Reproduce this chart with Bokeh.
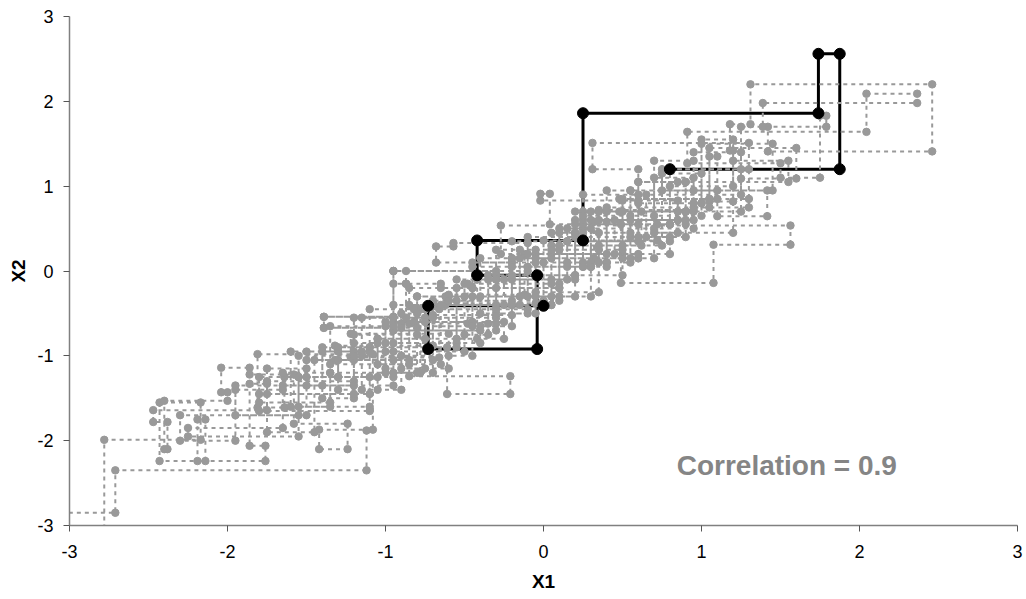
from bokeh.plotting import figure
from bokeh.models import Range1d, FixedTicker, Label
from bokeh.embed import file_html
from bokeh.resources import INLINE

# Gibbs chain (gray): alternating draws, vertical move to next x2, then horizontal move to next x1
gx1 = [-1.12, -2.71, -3.20, -2.78, -2.17, -2.43, -2.14, -2.19, -1.76, -1.86,
       -1.75, -2.47, -2.38, -2.40, -2.00, -2.04, -1.86, -1.58, -1.24, -1.42,
       -1.08, -1.81, -1.64, -1.30, -1.15, -0.90, -0.85, -1.32, -0.70, -0.55,
       -0.42, -0.30, -0.95, -0.78, -0.66, -1.22, -0.60, -0.12, -0.05, -0.70,
       -0.20, 0.32, 0.40, 0.35, 0.95, 0.48, 1.10, 1.05, 1.20, 1.18,
       1.31, 2.46, 1.42, 1.388, 2.365, 2.044, 0.91, 1.50, 1.75, 1.79,
       1.25, 1.60, 1.05, 1.30, 0.75, 1.416, 1.10, 0.55, 0.90, 0.25,
       0.30, 0.85, 0.50, -0.27, 1.563, 1.076, 0.49, 0.72, 0.00, 0.10,
       -0.15, -0.62, 0.10, 0.20, -0.35, -0.48, 0.05, 0.62, 0.30, -0.10,
       -0.82, -0.25, -1.05, -1.30, -0.70, -0.95, -0.30, -0.95, -1.39, -0.90,
       -0.60, -0.20, -0.68, -0.57, -0.10, -0.95, -0.87, -0.30, 0.20, 0.05,
       -0.20, 0.60, -0.02, 0.04, 0.80, 0.60, 0.90, 0.35, 0.75, 1.00,
       0.55, 0.40, 0.25, 0.95, 1.30, 0.31, 0.60, 0.25, 0.80, 0.05,
       -0.40, -0.20, -0.55, -0.95, -0.45, -0.85, -0.21, -0.61, -1.30, -1.05,
       -0.75, -1.10, -1.55, -1.10, -1.50, -0.95, -0.40, -1.00, -0.75, -1.20,
       -1.75, -1.10, -0.55, -0.65, -0.87, -0.95, -1.39, -0.80, -0.45, 0.25,
       -0.10, 0.20, 0.60, -0.05, 0.35, 0.85, 0.35, 0.10, -0.50, -0.35,
       0.15, -0.20, 0.50, 0.20, 0.65, 1.25, 0.80, 0.90, 0.60, 0.40,
       1.05, 0.50, 0.70, 0.10, -0.30, -0.05, -0.45, -1.00, -0.50, -0.80,
       -1.20, -1.50, -0.95, -1.35, -1.65, -1.20, -1.05, -0.65, -0.30, 0.05,
       -0.40, -0.10, 0.45, 0.95, 0.70, 1.20, 1.55, 0.85, 1.25, 0.95,
       1.45, 1.00, 0.60, 0.15, 0.55, 0.20, -0.25, 0.05, -0.30, -0.75,
       -1.00, -0.70, -0.95, -1.40, -1.20, -1.60, -1.35, -0.80, -0.90, -0.45,
       0.10, 0.50, -0.05, 0.30, 0.15, 0.40, 0.90, 0.25, 0.80, 1.20,
       1.00, 0.95, 0.70, 0.25, 0.55, -0.15, -0.60, 0.00, 0.30, -0.20,
       -0.85, -1.35, -1.80, -1.20, -1.55, -1.95, -1.65, -2.25, -1.55, -1.80,
       -1.10, -1.40, -1.95, -2.30, -1.50, -1.75, -1.45, -0.95, -1.15, -0.60]

gx2 = [-1.88, -2.35, -2.85, -3.10, -1.99, -1.55, -2.24, -1.75, -2.24, -2.06,
       -1.33, -1.64, -1.78, -2.10, -1.53, -1.43, -1.14, -1.22, -1.80, -2.10,
       -1.87, -0.98, -1.61, -1.25, -0.95, -1.40, -0.62, -1.05, -0.88, -0.35,
       -0.80, -0.10, -0.62, -1.20, -0.45, -1.02, -0.74, -0.28, 0.20, -0.38,
       -0.52, 0.15, 0.58, 0.10, 0.72, 0.70, 0.85, 1.35, 0.82, 1.42,
       1.73, 2.20, 1.41, 1.70, 1.98, 2.09, 1.64, 1.27, 1.10, 1.83,
       1.70, 1.09, 1.45, 0.85, 1.20, 0.95, 0.646, 0.95, 0.40, 0.70,
       0.05, 0.60, 0.83, 0.20, 0.536, 0.31, -0.14, 0.55, 0.36, -0.35,
       0.25, -0.40, -0.30, 0.45, -0.05, -0.62, -0.15, 0.30, 0.70, 0.05,
       -0.45, -0.60, -0.80, -1.25, -1.05, -0.40, -0.70, 0.00, -0.54, -0.67,
       -1.15, -0.35, 0.10, 0.29, 0.33, 0.00, -0.15, -0.55, -0.05, 0.45,
       -0.40, 0.15, 0.83, 0.91, 0.55, 0.40, 1.05, 0.70, 0.30, 1.15,
       0.65, 0.95, 0.10, 0.50, 0.75, 1.51, 1.20, 0.90, 0.55, 0.20,
       -0.30, -0.65, -0.10, -0.85, -0.60, -0.20, -1.24, -1.45, -0.90, -1.40,
       -0.80, -0.45, -1.25, -1.60, -0.95, -1.35, -0.70, -0.85, -1.15, -0.55,
       -1.30, -1.45, -0.90, -0.20, -0.15, 0.00, -0.54, -0.67, -0.30, 0.05,
       0.40, -0.30, 0.55, 0.15, -0.25, 0.45, 0.60, 0.25, -0.15, -0.75,
       -0.10, 0.35, -0.05, 0.70, 0.40, 0.90, 1.20, 0.55, 1.05, 0.20,
       0.75, 0.85, 0.15, 0.50, -0.20, -0.50, 0.10, -0.65, -0.95, -0.30,
       -0.75, -1.05, -1.25, -0.65, -1.20, -1.35, -0.85, -1.10, -0.40, -0.10,
       0.15, -0.50, 0.20, 0.60, 1.10, 0.45, 1.30, 1.05, 0.70, 1.40,
       0.95, 1.50, 0.80, 0.35, 0.10, 0.60, -0.10, -0.40, 0.25, -0.45,
       -0.60, -1.20, -0.55, -0.95, -1.50, -0.95, -1.60, -1.20, -0.50, -1.00,
       -0.20, 0.30, 0.25, -0.30, 0.50, 0.05, 0.70, 0.60, 0.35, 1.00,
       1.55, 0.80, 1.30, 0.65, 0.45, 0.15, -0.30, -0.35, 0.10, 0.05,
       -0.40, -1.10, -1.55, -1.45, -1.00, -1.70, -1.40, -1.85, -1.95, -1.25,
       -1.65, -0.90, -1.35, -2.00, -1.70, -1.15, -1.90, -1.05, -0.55, -1.00]

# Short chain (black): horizontal move first, then vertical
bx1 = [0.00, -0.73, -0.04, -0.42, 0.25, 1.74, 1.875, 0.80]
bx2 = [-0.41, -0.92, -0.05, 0.36, 1.86, 2.56, 1.20]

ticks = [-3, -2, -1, 0, 1, 2, 3]
tick_labels = ["-3", "-2", "-1", "0", "1", "2", "3"]
annotation = "Correlation = 0.9"

# build staircase paths
gxs, gys = [], []
n = len(gx1)
for i in range(n):
    gxs.append(gx1[i]); gys.append(gx2[i])
    if i + 1 < n:
        gxs.append(gx1[i]); gys.append(gx2[i + 1])

bxs, bys = [], []
for i in range(len(bx2)):
    bxs.append(bx1[i]); bys.append(bx2[i])
    bxs.append(bx1[i + 1]); bys.append(bx2[i])

FONT = "Liberation Sans"
GRAY = "#999999"

p = figure(width=1024, height=597, output_backend="svg", toolbar_location=None,
           x_range=Range1d(-3, 3), y_range=Range1d(-3, 3),
           min_border_left=69, min_border_right=7, min_border_top=16, min_border_bottom=72)
p.outline_line_color = None
p.xgrid.visible = False
p.ygrid.visible = False
p.background_fill_color = "white"

for ax in (p.xaxis[0], p.yaxis[0]):
    ax.ticker = FixedTicker(ticks=ticks)
    ax.major_label_overrides = {t: l for t, l in zip(ticks, tick_labels)}
    ax.axis_line_color = "#808080"
    ax.axis_line_width = 1.5
    ax.major_tick_line_color = "#555555"
    ax.major_tick_line_width = 1
    ax.major_tick_in = 0
    ax.major_tick_out = 6
    ax.minor_tick_line_color = None
    ax.major_label_text_font = FONT
    ax.major_label_text_font_size = "18px"
    ax.major_label_text_color = "black"
    ax.axis_label_text_font = FONT
    ax.axis_label_text_font_size = "19px"
    ax.axis_label_text_font_style = "bold"
    ax.axis_label_text_color = "black"

p.xaxis.axis_label = "X1"
p.yaxis.axis_label = "X2"
p.xaxis.major_label_standoff = 13
p.xaxis.axis_label_standoff = 10
p.yaxis.major_label_standoff = 10
p.yaxis.axis_label_standoff = 5

p.line(bxs, bys, line_color="black", line_width=3)
p.line(gxs, gys, line_color=GRAY, line_width=2, line_dash="4 4")
p.scatter(gxs, gys, size=7.5, fill_color=GRAY, line_color=GRAY)
p.scatter(bxs, bys, size=11, fill_color="black", line_color="black")

lab = Label(x=1.54, y=-2.29, text=annotation, text_font=FONT, text_font_size="28px",
            text_font_style="bold", text_color="#858585", text_align="center", text_baseline="middle")
p.add_layout(lab)

open("out.html", "w").write(file_html(p, INLINE))
